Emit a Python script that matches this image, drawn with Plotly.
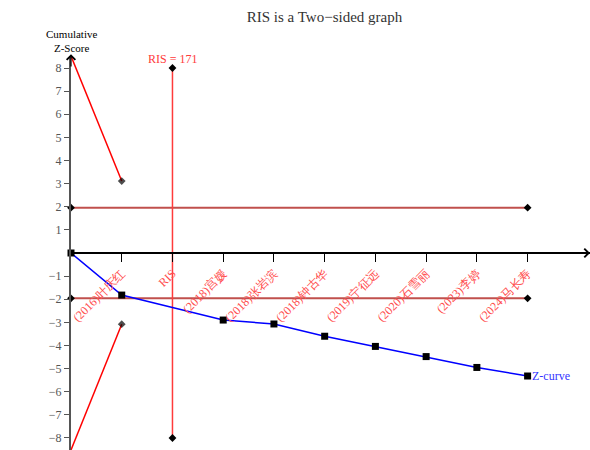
import plotly.graph_objects as go

# Study labels along the cumulative axis (position 2 holds the RIS marker)
labels = ["(2016)叶庆红", "RIS", "(2018)宫媛", "(2018)张岩滨", "(2018)钟古华",
          "(2019)宁征远", "(2020)石雪丽", "(2023)李婷", "(2024)马长寿"]
label_pos = [1, 2, 3, 4, 5, 6, 7, 8, 9]

# Cumulative Z-curve
z_pos = [0, 1, 3, 4, 5, 6, 7, 8, 9]
z_vals = [0, -1.82, -2.90, -3.07, -3.60, -4.04, -4.48, -4.95, -5.32]

# Monitoring boundaries
bound_pos = [0, 1]
upper_bound = [8.52, 3.11]
lower_bound = [-8.52, -3.08]

# Conventional significance lines
conv_pos = [0, 9]
conv_z = 1.96

# Required information size
ris_pos = 2
ris_value = 171
ris_span = [-8, 8]

y_ticks = [-8, -7, -6, -5, -4, -3, -2, -1, 1, 2, 3, 4, 5, 6, 7, 8]

SERIF = "Liberation Serif"

fig = go.Figure()

# Conventional +/-1.96 lines
for s in (1, -1):
    fig.add_trace(go.Scatter(
        x=conv_pos, y=[s * conv_z] * 2, mode="lines+markers",
        line=dict(color="#c0504d", width=2),
        marker=dict(symbol="diamond", size=6, color="black"),
        cliponaxis=False, showlegend=False, hoverinfo="skip"))

# RIS vertical line
fig.add_trace(go.Scatter(
    x=[ris_pos, ris_pos], y=ris_span, mode="lines+markers",
    line=dict(color="#ff3b3b", width=1.5),
    marker=dict(symbol="diamond", size=6, color="black"),
    cliponaxis=False, showlegend=False, hoverinfo="skip"))

# Boundaries
for b in (upper_bound, lower_bound):
    fig.add_trace(go.Scatter(
        x=bound_pos, y=b, mode="lines+markers",
        line=dict(color="#ff0000", width=1.5),
        marker=dict(symbol="diamond", size=[0, 6], color="black",
                    line=dict(width=0)),
        cliponaxis=True, showlegend=False, hoverinfo="skip"))

# Z-curve
fig.add_trace(go.Scatter(
    x=z_pos, y=z_vals, mode="lines+markers",
    line=dict(color="#0000ff", width=1.5),
    marker=dict(symbol="square", size=7, color="black"),
    cliponaxis=False, showlegend=False, hoverinfo="skip"))

annotations = [
    dict(x=ris_pos, y=ris_span[1], xref="x", yref="y", text=f"RIS = {ris_value}",
         showarrow=False, yanchor="bottom", yshift=0,
         font=dict(family=SERIF, size=12, color="#ff3b3b")),
    dict(x=z_pos[-1], y=z_vals[-1], xref="x", yref="y", text="Z-curve",
         showarrow=False, xanchor="left", xshift=2,
         font=dict(family=SERIF, size=12, color="#3333ff")),
    dict(x=0, y=8.52, xref="x", yref="y", text="Cumulative<br>Z-Score",
         showarrow=False, yanchor="bottom", yshift=0,
         font=dict(family=SERIF, size=11, color="black")),
    dict(x=-1.06, y=4.1, xref="x", yref="y", text="Favours<br>对照组",
         showarrow=False, textangle=-90,
         font=dict(family=SERIF, size=11, color="#333333")),
    dict(x=-1.06, y=-3.98, xref="x", yref="y", text="Favours<br>联合组",
         showarrow=False, textangle=-90,
         font=dict(family=SERIF, size=11, color="#333333")),
    # arrow heads on the axes
    dict(x=0, y=8.6, ax=0, ay=8.0, xref="x", yref="y", axref="x", ayref="y",
         text="", showarrow=True, arrowhead=4, arrowsize=1.4, arrowwidth=1.2,
         arrowcolor="black"),
    dict(x=10.23, y=0, ax=9.8, ay=0, xref="x", yref="y", axref="x", ayref="y",
         text="", showarrow=True, arrowhead=4, arrowsize=1.4, arrowwidth=1.2,
         arrowcolor="black"),
]

fig.update_layout(
    width=590, height=450,
    margin=dict(l=71, r=0, t=56, b=0),
    paper_bgcolor="white", plot_bgcolor="white",
    font=dict(family=SERIF),
    title=dict(text="RIS is a Two−sided graph", x=0.55, xanchor="center",
               y=0.962, yanchor="middle",
               font=dict(family=SERIF, size=15, color="#333333")),
    annotations=annotations,
    xaxis=dict(range=[0, 10.23], tickvals=label_pos, ticktext=labels,
               tickangle=-45, anchor="free", position=0.5,
               showline=True, linecolor="black", linewidth=1.5,
               ticks="outside", ticklen=8, tickcolor="black", tickwidth=1.2,
               tickfont=dict(family=SERIF, size=12, color="#ff4d4d"),
               showgrid=False, zeroline=False),
    yaxis=dict(range=[-8.52, 8.52], tickvals=y_ticks,
               showline=True, linecolor="#555555", linewidth=2,
               ticks="outside", ticklen=5, tickcolor="#555555", tickwidth=1.2,
               tickfont=dict(family=SERIF, size=12, color="#555555"),
               showgrid=False, zeroline=False),
)

fig.write_html("out.html")
